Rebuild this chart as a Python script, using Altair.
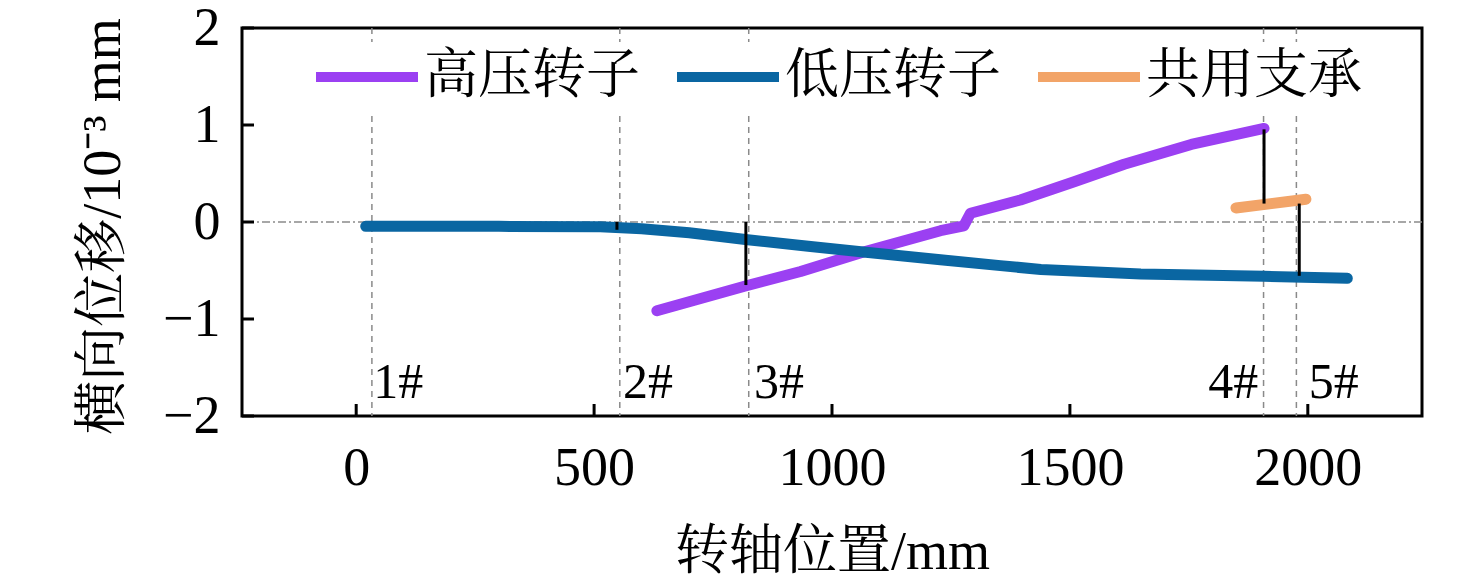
import altair as alt
import pandas as pd

# ---- data ----
hp_x = [632, 818, 934, 1066, 1228, 1277, 1291, 1396, 1509, 1614, 1755, 1908]
hp_y = [-0.915, -0.66, -0.51, -0.31, -0.09, -0.04, 0.09, 0.227, 0.415, 0.595, 0.80, 0.965]
lp_x = [20, 300, 513, 600, 700, 818, 950, 1066, 1228, 1354, 1439, 1649, 1908, 2083]
lp_y = [-0.045, -0.045, -0.05, -0.07, -0.11, -0.18, -0.25, -0.31, -0.39, -0.45, -0.49, -0.535, -0.56, -0.58]
sb_x = [1849, 1996]
sb_y = [0.145, 0.235]

series_names = ["高压转子", "低压转子", "共用支承"]
series_colors = ["#9b40f2", "#0a66a2", "#f2a468"]

bearing_x = [33, 554, 825, 1907, 1976]
bearing_labels = ["1#", "2#", "3#", "4#", "5#"]
label_x = [36, 561, 836, 1896, 2002]
label_align = ["left", "left", "left", "right", "left"]
label_y = -1.81

link_x = [548, 819, 1908, 1982]
link_top = [0.0, 0.0, 0.955, 0.19]
link_bottom = [-0.08, -0.65, 0.19, -0.555]

x_ticks = [0, 500, 1000, 1500, 2000]
y_ticks = [-2, -1, 0, 1, 2]

FONT = "'Liberation Serif', 'Noto Serif CJK SC', 'Noto Sans CJK SC', serif"

rows = []
for name, xs_, ys_ in zip(series_names, [hp_x, lp_x, sb_x], [hp_y, lp_y, sb_y]):
    for i, (a, b) in enumerate(zip(xs_, ys_)):
        rows.append({"series": name, "x": a, "y": b, "i": i})
df = pd.DataFrame(rows)

bear_df = pd.DataFrame({"bx": bearing_x})
lab_df = pd.DataFrame({"lx": label_x, "ly": [label_y] * 5, "txt": bearing_labels, "al": label_align})
link_df = pd.DataFrame({"kx": link_x, "k1": link_top, "k2": link_bottom})
xt_df = pd.DataFrame({"t": x_ticks})
yt_df = pd.DataFrame({"t": y_ticks})
zero_df = pd.DataFrame({"z": [0]})

xs = alt.Scale(domain=[-240, 2240], nice=False, zero=False)
ys = alt.Scale(domain=[-2, 2], nice=False, zero=False)

XAX = alt.Axis(values=x_ticks, title="转轴位置/mm", labelPadding=25, format="d",
               titleY=152, titleBaseline="alphabetic")
YAX = alt.Axis(values=y_ticks, title="横向位移/10⁻³ mm", labelPadding=22,
               titleX=-123, titleY=198, titleBaseline="alphabetic",
               titleAngle=-90, titleAlign="center")

lines = alt.Chart(df).mark_line(strokeWidth=11, strokeCap="round", strokeJoin="round").encode(
    x=alt.X("x:Q", scale=xs, axis=XAX),
    y=alt.Y("y:Q", scale=ys, axis=YAX),
    color=alt.Color("series:N", scale=alt.Scale(domain=series_names, range=series_colors),
                    sort=series_names,
                    legend=alt.Legend(orient="none", legendX=90, legendY=14, direction="horizontal",
                                      fillColor="white", padding=8,
                                      symbolType="M-2.55,0H2.55",
                                      symbolStrokeWidth=10, symbolSize=1600, labelFontSize=54,
                                      labelFont=FONT, labelOffset=30, columnPadding=17,
                                      labelLimit=400, title=None, labelColor="black")),
    order="i:Q",
)

vlines = alt.Chart(bear_df).mark_rule(color="#8a8a8a", strokeWidth=1.5, strokeDash=[6, 5]).encode(
    x=alt.X("bx:Q", scale=xs, axis=XAX)
)
hline = alt.Chart(zero_df).mark_rule(color="#8a8a8a", strokeWidth=1.5, strokeDash=[8, 3, 2, 3]).encode(
    y=alt.Y("z:Q", scale=ys, axis=YAX)
)
links = alt.Chart(link_df).mark_rule(color="black", strokeWidth=3).encode(
    x=alt.X("kx:Q", scale=xs, axis=XAX),
    y=alt.Y("k1:Q", scale=ys, axis=YAX),
    y2="k2:Q",
)
lab_left = alt.Chart(lab_df).transform_filter(alt.datum.al == "left").mark_text(
    align="left", baseline="alphabetic", fontSize=50, font=FONT, color="black"
).encode(
    x=alt.X("lx:Q", scale=xs, axis=XAX),
    y=alt.Y("ly:Q", scale=ys, axis=YAX),
    text="txt:N",
)
lab_right = alt.Chart(lab_df).transform_filter(alt.datum.al == "right").mark_text(
    align="right", baseline="alphabetic", fontSize=50, font=FONT, color="black"
).encode(
    x=alt.X("lx:Q", scale=xs, axis=XAX),
    y=alt.Y("ly:Q", scale=ys, axis=YAX),
    text="txt:N",
)
xticks = alt.Chart(xt_df).mark_rule(color="black", strokeWidth=3).encode(
    x=alt.X("t:Q", scale=xs, axis=XAX),
    y=alt.value(388),
    y2=alt.value(376),
)
yticks = alt.Chart(yt_df).mark_rule(color="black", strokeWidth=3).encode(
    y=alt.Y("t:Q", scale=ys, axis=YAX),
    x=alt.value(0),
    x2=alt.value(12),
)

chart = alt.layer(vlines, hline, lines, links, lab_left, lab_right, xticks, yticks).properties(
    width=1180,
    height=388,
    padding={"left": 234, "top": 20, "right": 30, "bottom": 165},
    autosize=alt.AutoSizeParams(type="none"),
).configure_view(
    stroke="black", strokeWidth=3
).configure_axis(
    domain=False, ticks=False, grid=False,
    labelFont=FONT, titleFont=FONT, labelFontSize=54, titleFontSize=54,
    labelColor="black", titleColor="black", titleFontWeight="normal",
)

chart.save("out.html", embed_options={"renderer": "svg", "actions": False})
